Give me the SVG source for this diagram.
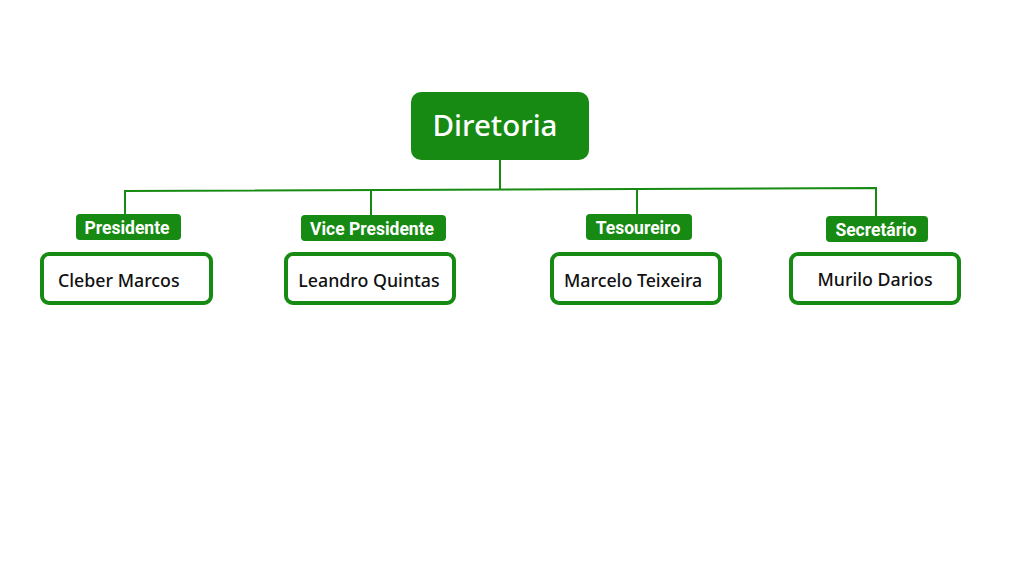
<svg xmlns="http://www.w3.org/2000/svg" width="1024" height="576" viewBox="0 0 1024 576">
<style>
.top{fill:#168a12}
.lbl{fill:#168a12}
.lt{font-family:Roboto,"Liberation Sans",sans-serif;font-weight:bold;font-size:17.5px;fill:#fff;text-anchor:middle}
.box{fill:#fff;stroke:#168a12;stroke-width:4}
.nt{font-family:"Noto Sans",Lato,sans-serif;font-weight:500;font-size:17.8px;fill:#111}
.ln{stroke:#168a12;stroke-width:2;fill:none}
</style>
<rect width="1024" height="576" fill="#fff"/>
<g id="connectors">
<path class="ln" d="M500 160 V189.5"/>
<path class="ln" d="M125 214 V191 L876 188 V216"/>
<path class="ln" d="M371 190 V216"/>
<path class="ln" d="M637 189 V214"/>
</g>
<g id="diretoria">
<rect class="top" x="411" y="92" width="178" height="68" rx="10"/>
<text x="495" y="136" font-family="'Noto Sans',sans-serif" font-weight="500" font-size="29.5" fill="#fff" text-anchor="middle">Diretoria</text>
</g>
<g id="presidente">
<rect class="lbl" x="76" y="214" width="105" height="26" rx="4"/>
<text class="lt" x="127" y="233.5">Presidente</text>
</g>
<g id="vice">
<rect class="lbl" x="301" y="215" width="145" height="26" rx="4"/>
<text class="lt" x="372" y="234.5">Vice Presidente</text>
</g>
<g id="tesoureiro">
<rect class="lbl" x="586" y="214" width="106" height="26" rx="4"/>
<text class="lt" x="638" y="233.5">Tesoureiro</text>
</g>
<g id="secretario">
<rect class="lbl" x="826" y="216" width="102" height="26" rx="4"/>
<text class="lt" x="876" y="235.5">Secretário</text>
</g>
<g id="cleber">
<rect class="box" x="42" y="254" width="169" height="49" rx="7"/>
<text class="nt" x="58" y="286.5">Cleber Marcos</text>
</g>
<g id="leandro">
<rect class="box" x="286" y="254" width="168" height="49" rx="7"/>
<text class="nt" x="369" y="286.5" text-anchor="middle">Leandro Quintas</text>
</g>
<g id="marcelo">
<rect class="box" x="552" y="254" width="168" height="49" rx="7"/>
<text class="nt" x="564" y="286.5">Marcelo Teixeira</text>
</g>
<g id="murilo">
<rect class="box" x="791" y="254" width="168" height="49" rx="7"/>
<text class="nt" x="875" y="285.5" text-anchor="middle">Murilo Darios</text>
</g>
</svg>
